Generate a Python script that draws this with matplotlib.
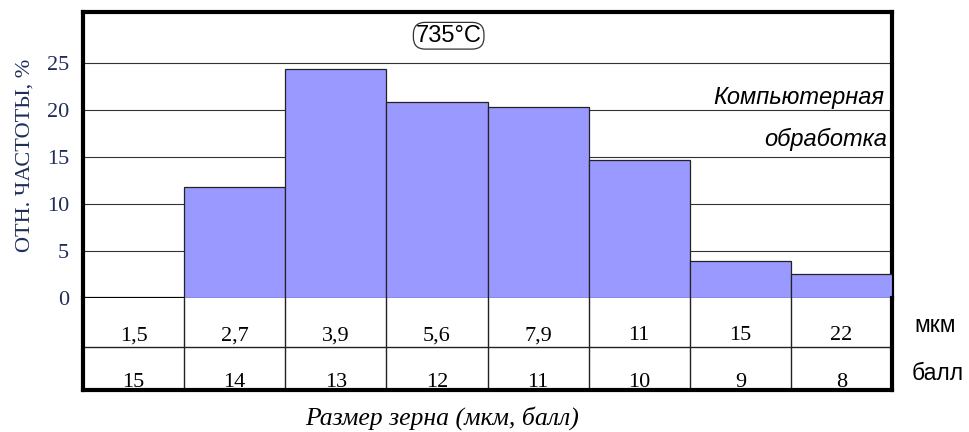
import matplotlib.pyplot as plt

# grain size classes
size_um   = ["1,5", "2,7", "3,9", "5,6", "7,9", "11", "15", "22"]
grade     = ["15", "14", "13", "12", "11", "10", "9", "8"]
freq_pct  = [0.0, 11.8, 24.3, 20.8, 20.3, 14.7, 3.9, 2.6]
yticks    = [0, 5, 10, 15, 20, 25]

W, H = 969, 432
BAR_COLOR = "#9999FF"
NAVY      = "#1f2d5a"
SERIF     = "Liberation Serif"
SANS      = "Liberation Sans"
THICK     = 3.0

fig = plt.figure(figsize=(W / 100, H / 100), dpi=100)

x0, x1 = 83, 892
y_top, y_zero, y_bot = 12, 298, 390


def px_axes(left, top, right, bottom):
    return fig.add_axes([left / W, 1 - bottom / H, (right - left) / W, (bottom - top) / H])


# ---- histogram ----
ax = px_axes(x0, y_top, x1, y_zero)
pos = list(range(len(freq_pct)))
ax.bar(pos, freq_pct, width=1.0, color=BAR_COLOR, edgecolor="#222222",
       linewidth=0.9, zorder=3)
ax.set_xlim(-0.5, len(pos) - 0.5)
ax.set_ylim(0, 30.4)
ax.set_yticks(yticks)
ax.set_yticklabels([str(v) for v in yticks], family=SERIF, fontsize=16, color=NAVY)
ax.set_xticks([])
ax.tick_params(axis="y", length=0, pad=10)
for v in yticks[1:]:
    ax.axhline(v, color="#333333", lw=0.8, zorder=1)
for s in ("left", "top", "right"):
    ax.spines[s].set_linewidth(THICK)
ax.spines["bottom"].set_linewidth(1.6)
ax.set_ylabel("ОТН. ЧАСТОТЫ, %", family=SERIF, fontsize=16, color=NAVY, labelpad=9)

ax.text(0.452, 0.917, "735°C", transform=ax.transAxes, ha="center", va="center",
        family=SANS, fontsize=17,
        bbox=dict(boxstyle="round,pad=0.1,rounding_size=0.5", fc="white",
                  ec="#333333", lw=0.9))
ax.text(0.99, 0.70, "Компьютерная", transform=ax.transAxes, ha="right", va="center",
        family=SANS, style="italic", fontsize=17)
ax.text(0.994, 0.555, "обработка", transform=ax.transAxes, ha="right", va="center",
        family=SANS, style="italic", fontsize=17)

# ---- table below ----
tab = px_axes(x0, y_zero, x1, y_bot)
tab.set_xlim(-0.5, len(pos) - 0.5)
row_split = (y_bot - 347) / (y_bot - y_zero)
tab.set_ylim(0, 1)
tab.set_xticks([])
tab.set_yticks([])
for s in ("left", "bottom", "right"):
    tab.spines[s].set_linewidth(THICK)
tab.spines["top"].set_visible(False)
tab.axhline(row_split, color="#222222", lw=1.0)
for i in pos[1:]:
    tab.axvline(i - 0.5, color="#222222", lw=1.0)
for i in pos:
    tab.text(i, row_split + 0.075, size_um[i], ha="center", va="baseline",
             family=SERIF, fontsize=16)
    tab.text(i, 0.035, grade[i], ha="center", va="baseline",
             family=SERIF, fontsize=16)

fig.text(914 / W, 1 - 325 / H, "мкм", ha="left", va="center", family=SANS, fontsize=16.5)
fig.text(912 / W, 1 - 373 / H, "балл", ha="left", va="center", family=SANS, fontsize=16.5)
fig.text(442 / W, 1 - 418 / H, "Размер зерна (мкм, балл)", ha="center", va="center",
         family=SERIF, style="italic", fontsize=18.5)

fig.savefig("out.png", dpi=100)
